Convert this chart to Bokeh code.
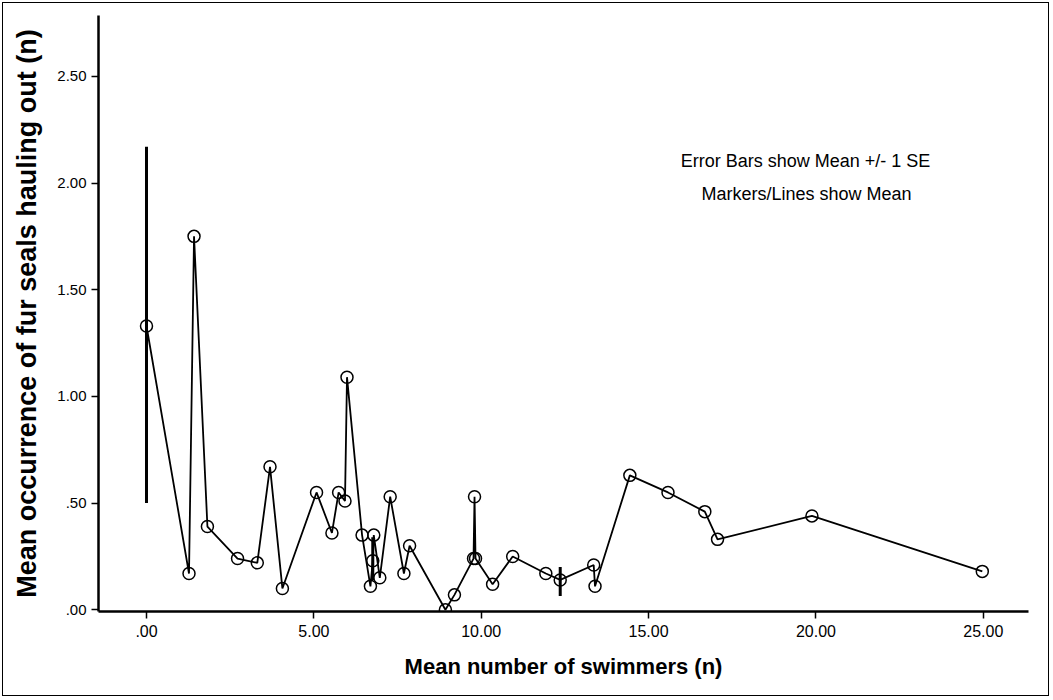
from bokeh.plotting import figure
from bokeh.models import FixedTicker, Label, Range1d, ColumnDataSource
from bokeh.embed import file_html
from bokeh.resources import INLINE

# ---- data ----
swimmers = [0.00, 1.27, 1.42, 1.82, 2.72, 3.31, 3.69, 4.06, 5.08, 5.54, 5.74, 5.93,
            5.99, 6.44, 6.69, 6.76, 6.79, 6.97, 7.28, 7.69, 7.86, 8.93, 9.20, 9.77,
            9.80, 9.83, 10.34, 10.94, 11.93, 12.36, 13.36, 13.40, 14.44, 15.58,
            16.68, 17.06, 19.88, 24.97]
seals = [1.33, 0.17, 1.75, 0.39, 0.24, 0.22, 0.67, 0.10, 0.55, 0.36, 0.55, 0.51,
         1.09, 0.35, 0.11, 0.23, 0.35, 0.15, 0.53, 0.17, 0.30, 0.00, 0.07, 0.24,
         0.53, 0.24, 0.12, 0.25, 0.17, 0.14, 0.21, 0.11, 0.63, 0.55, 0.46, 0.33,
         0.44, 0.18]

err_x = [0.00, 6.76, 12.36]
err_lo = [0.50, 0.14, 0.065]
err_hi = [2.17, 0.34, 0.20]

x_ticks = [0, 5, 10, 15, 20, 25]
x_tick_labels = [".00", "5.00", "10.00", "15.00", "20.00", "25.00"]
y_ticks = [0, 0.5, 1.0, 1.5, 2.0, 2.5]
y_tick_labels = [".00", ".50", "1.00", "1.50", "2.00", "2.50"]

x_title = "Mean number of swimmers (n)"
y_title = "Mean occurrence of fur seals hauling out (n)"
note_lines = ["Error Bars show Mean +/- 1 SE", "Markers/Lines show Mean"]

FONT = "Liberation Sans"

# ---- figure ----
W, H = 1047, 694
p = figure(width=W, height=H, output_backend="svg", toolbar_location=None,
           x_range=Range1d(-1.434, 26.35), y_range=Range1d(-0.008, 2.785))
p.styles = {"border": "1px solid black", "margin": "2px"}
p.min_border_left = 95
p.min_border_top = 12
p.min_border_right = 22
p.min_border_bottom = 86
p.outline_line_color = None
p.xgrid.visible = False
p.ygrid.visible = False
p.background_fill_color = "white"
p.border_fill_color = "white"

for ax in (p.xaxis[0], p.yaxis[0]):
    ax.axis_line_width = 2.5
    ax.axis_line_color = "black"
    ax.major_tick_line_width = 1.5
    ax.major_tick_out = 7
    ax.major_tick_in = 0
    ax.minor_tick_line_color = None
    ax.major_label_text_color = "black"
    ax.major_label_text_font = FONT
    ax.axis_label_text_font = FONT
    ax.axis_label_text_font_style = "bold"
    ax.axis_label_text_color = "black"

p.xaxis.ticker = FixedTicker(ticks=x_ticks)
p.xaxis.major_label_overrides = {t: l for t, l in zip(x_ticks, x_tick_labels)}
p.xaxis.major_label_text_font_size = "16px"
p.xaxis.major_label_standoff = 6
p.xaxis.axis_label = x_title
p.xaxis.axis_label_text_font_size = "22px"
p.xaxis.axis_label_standoff = 14

p.yaxis.ticker = FixedTicker(ticks=y_ticks)
p.yaxis.major_label_overrides = {t: l for t, l in zip(y_ticks, y_tick_labels)}
p.yaxis.major_label_text_font_size = "15px"
p.yaxis.major_label_standoff = 5
p.yaxis.axis_label = y_title
p.yaxis.axis_label_text_font_size = "27px"
p.yaxis.axis_label_standoff = 12

# error bars
esrc = ColumnDataSource(dict(x=err_x, lo=err_lo, hi=err_hi))
p.segment(x0="x", y0="lo", x1="x", y1="hi", source=esrc, line_color="black", line_width=3)

# mean line and markers
src = ColumnDataSource(dict(x=swimmers, y=seals))
p.line("x", "y", source=src, line_color="black", line_width=1.8)
p.scatter("x", "y", source=src, marker="circle", size=12, fill_color=None,
          line_color="black", line_width=1.5)

# ---- notes ----
def sx(px):
    return (px - 146) / 33.47

def sy(py):
    return (611 - py) / 214.0

p.add_layout(Label(x=sx(805), y=sy(161), text=note_lines[0], text_font=FONT,
                   text_font_size="18px", text_baseline="middle", text_align="center",
                   text_color="black"))
p.add_layout(Label(x=sx(806), y=sy(194), text=note_lines[1], text_font=FONT,
                   text_font_size="18px", text_baseline="middle", text_align="center",
                   text_color="black"))

open("out.html", "w").write(file_html(p, INLINE))
